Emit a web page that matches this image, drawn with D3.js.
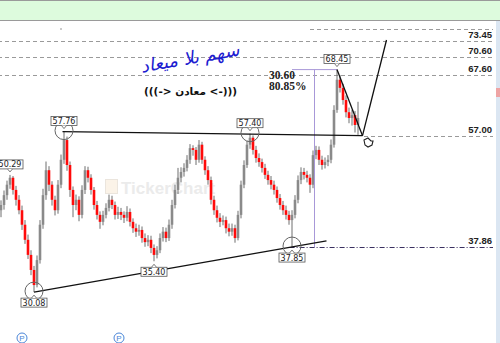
<!DOCTYPE html>
<html><head><meta charset="utf-8">
<script src="https://cdn.jsdelivr.net/npm/d3@7"></script>
<style>body{margin:0;background:#fff}svg{display:block}</style>
</head><body>
<svg id="c" width="500" height="343"></svg>
<script>
// ---- data ----
const opens=[44.2,45.1,46.8,48.6,49.8,47.7,46.0,44.2,41.7,39.1,
36.5,33.9,31.3,35.6,41.7,46.8,51.1,48.6,46.0,44.2,
48.6,52.9,56.3,52.0,47.7,45.1,46.0,43.4,47.7,51.1,
49.8,47.7,45.1,43.4,42.2,43.4,44.6,46.0,45.1,43.4,
43.9,43.4,42.9,43.9,42.2,41.1,40.5,40.8,39.4,38.7,
39.1,37.7,36.5,37.3,39.4,40.5,39.4,41.7,45.1,47.7,
49.8,50.8,51.5,52.9,54.9,54.6,52.9,55.5,52.9,51.1,
49.4,46.0,44.2,42.9,42.2,42.5,41.1,40.5,41.1,39.4,
43.4,48.6,52.0,55.5,56.7,54.6,53.2,52.5,51.5,50.3,
49.4,48.6,47.7,46.3,45.1,44.2,43.4,42.5,43.4,46.0,
49.4,50.8,50.3,49.8,48.6,53.7,54.6,52.9,52.0,52.5,
52.9,55.5,61.5,66.7,65.3,63.2,61.1,60.1,60.6,58.9];
const highs=[45.9,47.6,49.3,50.29,50.1,48.4,46.8,45.0,42.5,40.0,
37.3,34.6,36.4,42.5,47.9,52.6,51.8,49.2,46.7,49.4,
53.8,57.76,56.9,52.6,48.3,46.9,46.6,48.5,51.8,51.7,
50.4,48.2,45.8,44.0,44.1,45.4,46.9,46.7,45.7,44.8,
44.6,44.0,44.9,44.5,42.8,41.9,41.7,41.4,40.2,39.9,
39.8,38.3,38.0,40.2,41.3,41.2,42.6,46.0,48.6,51.5,
51.6,52.3,53.7,55.6,55.4,55.1,56.3,56.0,53.5,51.8,
50.0,46.7,45.0,43.7,43.3,43.1,41.9,41.9,41.7,44.1,
49.3,52.8,56.2,57.40,57.1,55.3,54.0,53.1,52.2,51.0,
50.1,49.3,48.3,47.0,45.8,45.0,44.1,44.2,46.8,50.2,
51.6,51.5,51.0,50.4,54.5,55.3,55.2,53.6,53.3,53.7,
56.4,62.3,68.45,67.5,66.0,64.0,61.9,61.5,61.3,62.9];
const lows=[43.0,44.3,46.0,47.9,46.9,45.0,43.5,40.8,38.4,35.8,
33.0,30.08,30.9,35.0,41.0,46.0,47.5,45.0,43.3,43.6,
48.0,52.2,51.0,46.5,43.0,44.2,42.3,42.8,47.0,49.0,
46.9,44.3,42.6,41.0,41.6,42.8,44.0,44.4,42.6,42.7,
42.5,42.0,42.3,41.4,40.3,39.6,39.8,38.6,37.9,38.0,
36.8,35.40,35.9,36.8,38.8,38.7,38.9,41.0,44.5,47.0,
49.0,50.0,50.9,52.2,53.6,52.0,52.4,52.2,50.3,48.6,
45.2,43.4,42.1,41.3,41.6,40.2,39.7,39.8,38.6,39.0,
42.8,48.0,51.5,54.8,53.8,52.4,51.7,50.7,49.6,48.6,
47.8,46.9,45.5,44.3,43.4,42.6,41.7,37.85,42.8,45.4,
48.7,49.5,49.0,47.2,48.0,53.0,52.0,51.2,51.4,51.8,
52.3,55.0,61.0,64.5,62.4,60.2,59.2,58.8,57.6,57.2];
const closes=[45.1,46.8,48.6,49.8,47.7,46.0,44.2,41.7,39.1,36.5,
33.9,31.3,35.6,41.7,46.8,51.1,48.6,46.0,44.2,48.6,
52.9,56.3,52.0,47.7,45.1,46.0,43.4,47.7,51.1,49.8,
47.7,45.1,43.4,42.2,43.4,44.6,46.0,45.1,43.4,43.9,
43.4,42.9,43.9,42.2,41.1,40.5,40.8,39.4,38.7,39.1,
37.7,36.5,37.3,39.4,40.5,39.4,41.7,45.1,47.7,49.8,
50.8,51.5,52.9,54.9,54.6,52.9,55.5,52.9,51.1,49.4,
46.0,44.2,42.9,42.2,42.5,41.1,40.5,41.1,39.4,43.4,
48.6,52.0,55.5,56.7,54.6,53.2,52.5,51.5,50.3,49.4,
48.6,47.7,46.3,45.1,44.2,43.4,42.5,43.4,46.0,49.4,
50.8,50.3,49.8,48.6,53.7,54.6,52.9,52.0,52.5,52.9,
55.5,61.5,66.7,65.3,63.2,61.1,60.1,60.6,58.9,60.1];

const levelPrices=[75.45,73.45,70.60,67.60,57.00,37.86];
const levelLabels=["","73.45","70.60","67.60","57.00","37.86"];
const levelStartIdx=[103,-1,-1,-1,121,96.2];

const peakLabels=[[3,50.29],[21,57.76],[83,57.40],[112,68.45]];
const troughLabels=[[11,30.08],[51,35.40],[97,37.85]];
const circled=[[21,57.76],[83,57.40],[11,30.08],[97,37.85]];

const neckline=[[20.5,57.76],[120.5,57.05]];
const supportLine=[[11,30.08],[108.5,38.9]];
const wedgeLine=[[112,68.45],[120.5,57.05]];
const targetLine=[[120.5,57.05],[128.5,73.55]];
const measureFrom=[97,37.85], measureTo=[112,68.45];
const measureText=["30.60","80.85%"];

// ---- scales ----
const svg=d3.select("#c");
const x=d3.scaleLinear().domain([0,119]).range([1,358]);
const y=d3.scaleLinear().domain([37.86,57.00]).range([247,136]);
const RIGHT=493;

// top band
svg.append("rect").attr("x",0).attr("y",0).attr("width",500).attr("height",20).attr("fill","#ddfbdd");
svg.append("line").attr("x1",0).attr("x2",500).attr("y1",0.5).attr("y2",0.5).attr("stroke","#9a9a9a");
svg.append("line").attr("x1",0).attr("x2",500).attr("y1",20.5).attr("y2",20.5).attr("stroke","#9a9a9a");
// right strip
svg.append("rect").attr("x",496).attr("y",21).attr("width",4).attr("height",322).attr("fill","#dbe6f2");
svg.append("rect").attr("x",496).attr("y",88).attr("width",4).attr("height",9).attr("fill","#eea4a4");

// watermark
svg.append("rect").attr("x",105.5).attr("y",179.5).attr("width",12).attr("height",14).attr("fill","#fbf3e8").attr("stroke","#ebe5dd");
svg.append("text").attr("x",121).attr("y",194).attr("font-family","Liberation Sans, Arial, sans-serif")
  .attr("font-weight","bold").attr("font-size",17).attr("fill","#ebebeb").text("TickerChart");

// levels
levelPrices.forEach((p,k)=>{
  const yy=Math.round(y(p))+0.5;
  const isDD = p===37.86;
  svg.append("line").attr("x1",x(levelStartIdx[k])).attr("x2",RIGHT).attr("y1",yy).attr("y2",yy)
    .attr("stroke",isDD?"#3a3060":"#9a9a9a").attr("stroke-width",1)
    .attr("stroke-dasharray",isDD?"5,2,1,2":"4,3");
  if(levelLabels[k]) svg.append("text").attr("x",492).attr("y",yy-3.5).attr("text-anchor","end")
    .attr("font-family","Liberation Sans, Arial, sans-serif").attr("font-weight","bold").attr("font-size",9.5)
    .attr("fill","#222").text(levelLabels[k]);
});

// candles
const data=d3.range(closes.length).map(i=>({i,o:opens[i],h:highs[i],l:lows[i],c:closes[i]}));
const g=svg.append("g");
g.selectAll("line.w").data(data).join("line")
  .attr("x1",d=>x(d.i)).attr("x2",d=>x(d.i)).attr("y1",d=>y(d.h)).attr("y2",d=>y(d.l))
  .attr("stroke","#6e6e6e").attr("stroke-width",1);
g.selectAll("rect.b").data(data).join("rect")
  .attr("x",d=>x(d.i)-1.3).attr("width",2.6)
  .attr("y",d=>y(Math.max(d.o,d.c))).attr("height",d=>Math.max(1,Math.abs(y(d.o)-y(d.c))))
  .attr("fill",d=>d.c<d.o?"#ff0a0a":"#8a8a8a");

// measure tool
const mc=(measureFrom[0]+measureTo[0])/2;
svg.append("line").attr("x1",x(measureFrom[0])).attr("x2",x(measureTo[0])).attr("y1",y(measureTo[1])).attr("y2",y(measureTo[1]))
  .attr("stroke","#a898d8").attr("stroke-width",1);
svg.append("line").attr("x1",x(mc)).attr("x2",x(mc)).attr("y1",y(measureTo[1])).attr("y2",y(measureFrom[1]))
  .attr("stroke","#a898d8").attr("stroke-width",1);
measureText.forEach((t,k)=>svg.append("text").attr("x",269).attr("y",79+k*10.5)
  .attr("font-family","Liberation Serif, serif").attr("font-weight","bold").attr("font-size",11.5).attr("fill","#222").text(t));

// trend lines
const line=d3.line().x(d=>x(d[0])).y(d=>y(d[1]));
[neckline,supportLine,wedgeLine,targetLine].forEach(l=>
  svg.append("path").attr("d",line(l)).attr("fill","none").attr("stroke","#111").attr("stroke-width",1.3));

// circles
svg.selectAll("circle.m").data(circled).join("circle")
  .attr("cx",d=>x(d[0])).attr("cy",d=>y(d[1])-1).attr("r",9).attr("fill","none").attr("stroke","#666");

// price tags
function tag(i,p,up){
  const cx=x(i), py=y(p);
  const by= up? py-15 : py+6;
  const gg=svg.append("g");
  gg.append("rect").attr("x",cx-13).attr("y",by).attr("width",26).attr("height",9)
    .attr("fill","#fff").attr("stroke","#555").attr("stroke-width",0.8);
  const ty= up? by+9 : by;
  gg.append("path").attr("d",`M${cx-2.5},${ty} L${cx},${up?ty+3:ty-3} L${cx+2.5},${ty}`)
    .attr("fill","#fff").attr("stroke","#555").attr("stroke-width",0.8);
  gg.append("text").attr("x",cx).attr("y",by+7.5).attr("text-anchor","middle")
    .attr("font-family","DejaVu Sans, Verdana, sans-serif").attr("font-size",8).attr("fill","#222").text(p.toFixed(2));
}
peakLabels.forEach(d=>tag(d[0],d[1],true));
troughLabels.forEach(d=>tag(d[0],d[1],false));

// Arabic texts
svg.append("text").attr("transform","translate(191,64) rotate(-10)").attr("text-anchor","middle")
  .attr("font-family","DejaVu Sans, sans-serif").attr("font-size",18).attr("font-style","italic")
  .attr("fill","#1c1cd0").text("سهم بلا ميعاد");
svg.append("text").attr("x",144).attr("y",95).attr("direction","ltr")
  .attr("font-family","DejaVu Sans, sans-serif").attr("font-weight","bold").attr("font-size",10.5)
  .attr("fill","#111").text("(((-> معادن <-)))");

// cursor-like mark
svg.append("path").attr("d","M364,140 l4,-2 l3,3 l2,0 l-1,4 l-4,2 l-3,-2 z").attr("fill","none").attr("stroke","#222").attr("stroke-width",1.1);
svg.append("circle").attr("cx",61).attr("cy",29).attr("r",0.8).attr("fill","#888");

// P markers
[22,119].forEach(px=>{
  svg.append("circle").attr("cx",px).attr("cy",338).attr("r",5).attr("fill","#fff").attr("stroke","#4a86d8");
  svg.append("text").attr("x",px).attr("y",341).attr("text-anchor","middle").attr("font-family","Liberation Sans, Arial")
    .attr("font-size",8).attr("fill","#4a86d8").text("P");
});
</script></body></html>
